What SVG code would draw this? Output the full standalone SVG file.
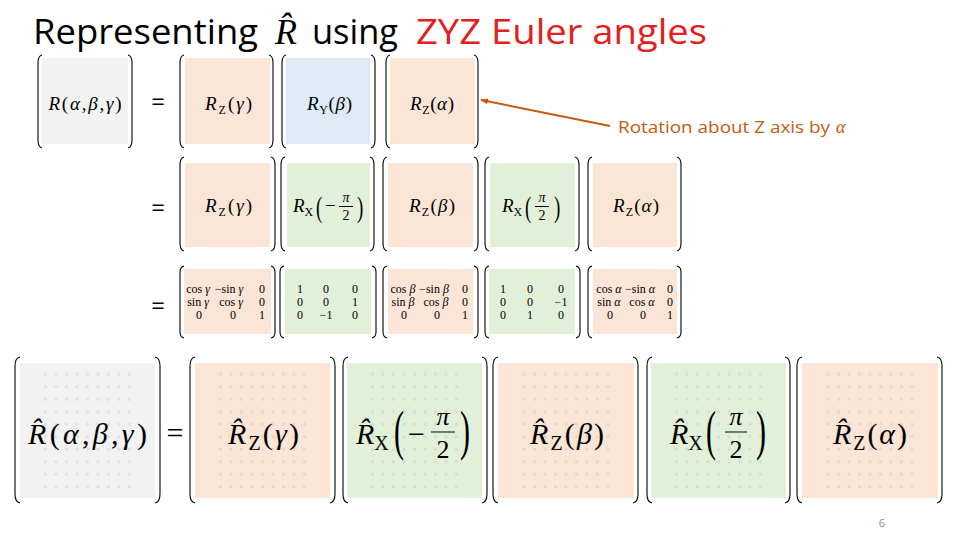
<svg xmlns="http://www.w3.org/2000/svg" xmlns:xlink="http://www.w3.org/1999/xlink" width="960" height="540" viewBox="0 0 960 540">
<style>
.br{fill:none;stroke:#000;stroke-width:1.1}
.g{fill:#f2f2f2}.o{fill:#fbe5d6}.b{fill:#deebf7}.gr{fill:#e2f0d9}
.m{font-family:"Liberation Serif","DejaVu Serif",serif;fill:#000}
.i{font-style:italic}
.s1{font-size:19px}.s4{font-size:30px}
.mx{font-family:"Liberation Serif","DejaVu Serif",serif;font-size:12px;text-anchor:middle;fill:#000}
.eq{font-family:"Open Sans","Noto Sans",sans-serif;font-size:24px;text-anchor:middle}
.t{font-family:"Open Sans","Noto Sans",sans-serif;font-size:34px}
.c{text-anchor:middle}
.fl{stroke:#000;stroke-width:1}
</style>
<defs>
<pattern id="dp" width="10.5" height="12.5" patternUnits="userSpaceOnUse"><circle cx="5.25" cy="6.25" r="1.6" fill="#000" fill-opacity="0.07"/></pattern>
<rect id="dots" x="0" y="0" width="94.5" height="125" fill="url(#dp)"/>
<marker id="ah" markerWidth="8" markerHeight="8" refX="7" refY="4" orient="auto" markerUnits="userSpaceOnUse"><path d="M0,1 L8,4 L0,7 Z" fill="#c55a11"/></marker>
</defs>
<rect width="960" height="540" fill="#fff"/>
<g id="title">
<text class="t" x="33" y="44" textLength="225" lengthAdjust="spacingAndGlyphs">Representing</text>
<text class="m i" x="275" y="44" font-size="36">R&#x302;</text>
<text class="t" x="312" y="44" textLength="86" lengthAdjust="spacingAndGlyphs">using</text>
<text class="t" x="416" y="44" fill="#e3201b" textLength="291" lengthAdjust="spacingAndGlyphs">ZYZ Euler angles</text>
</g>
<!-- Row 1 -->
<g id="r1a"><rect class="g" x="42" y="58" width="86" height="86"/>
<path class="br" d="M42,55 Q38,56 38,63 L38,140 Q38,147 42,148"/><path class="br" d="M128,55 Q132,56 132,63 L132,140 Q132,147 128,148"/>
<text class="m s1 c" x="85" y="110" textLength="73"><tspan class="i">R</tspan>(<tspan class="i">α</tspan>,<tspan class="i">β</tspan>,<tspan class="i">γ</tspan>)</text></g>
<text class="eq" x="158" y="110">=</text>
<g id="r1b"><rect class="o" x="185" y="58" width="85" height="86"/>
<path class="br" d="M184,55 Q180,56 180,63 L180,140 Q180,147 184,148"/><path class="br" d="M269,55 Q273,56 273,63 L273,140 Q273,147 269,148"/>
<text class="m s1" x="205" y="110" textLength="47"><tspan class="i">R</tspan><tspan font-size="12" dy="4">Z</tspan><tspan dy="-4">(</tspan><tspan class="i">γ</tspan>)</text></g>
<g id="r1c"><rect class="b" x="286" y="58" width="84" height="86"/>
<path class="br" d="M286,55 Q282,56 282,63 L282,140 Q282,147 286,148"/><path class="br" d="M371,55 Q375,56 375,63 L375,140 Q375,147 371,148"/>
<text class="m s1" x="307" y="110" textLength="45"><tspan class="i">R</tspan><tspan font-size="12" dy="4">Y</tspan><tspan dy="-4">(</tspan><tspan class="i">β</tspan>)</text></g>
<g id="r1d"><rect class="o" x="390" y="58" width="85" height="86"/>
<path class="br" d="M390,55 Q386,56 386,63 L386,140 Q386,147 390,148"/><path class="br" d="M474,55 Q478,56 478,63 L478,140 Q478,147 474,148"/>
<text class="m s1" x="410" y="110" textLength="44"><tspan class="i">R</tspan><tspan font-size="12" dy="4">Z</tspan><tspan dy="-4">(</tspan><tspan class="i">α</tspan>)</text></g>
<g id="connectors">
<line x1="610" y1="126" x2="481" y2="100" stroke="#c55a11" stroke-width="2" marker-end="url(#ah)"/>
</g>
<g id="note"><text x="618" y="133" font-family="Open Sans,Noto Sans,sans-serif" font-size="17" fill="#c55a11"><tspan textLength="212" lengthAdjust="spacingAndGlyphs">Rotation about Z axis by</tspan><tspan class="i" font-family="Liberation Serif,serif" font-size="18" dx="6">α</tspan></text></g>
<!-- Row 2 -->
<text class="eq" x="158" y="216">=</text>
<g id="r2a"><rect class="o" x="185" y="163" width="85" height="84"/>
<path class="br" d="M184,157 Q180,158 180,165 L180,243 Q180,250 184,251"/><path class="br" d="M271,157 Q275,158 275,165 L275,243 Q275,250 271,251"/>
<text class="m s1" x="205" y="212" textLength="47"><tspan class="i">R</tspan><tspan font-size="12" dy="4">Z</tspan><tspan dy="-4">(</tspan><tspan class="i">γ</tspan>)</text></g>
<g id="r2b"><rect class="gr" x="287" y="163" width="83" height="84"/>
<path class="br" d="M285,157 Q281,158 281,165 L281,243 Q281,250 285,251"/><path class="br" d="M370,157 Q374,158 374,165 L374,243 Q374,250 370,251"/>
<text class="m s1" x="293" y="212"><tspan class="i">R</tspan><tspan font-size="12" dy="4">X</tspan></text>
<text class="m" font-size="19" transform="translate(316,217) scale(1,1.6)">(</text>
<text class="m s1" x="325" y="212">−</text>
<text class="m c" x="346" y="202" font-size="14" font-style="italic">π</text>
<line class="fl" x1="339" y1="206.5" x2="353" y2="206.5"/>
<text class="m c" x="346" y="220" font-size="14">2</text>
<text class="m" font-size="19" transform="translate(357,217) scale(1,1.6)">)</text></g>
<g id="r2c"><rect class="o" x="388" y="163" width="85" height="84"/>
<path class="br" d="M387,157 Q383,158 383,165 L383,243 Q383,250 387,251"/><path class="br" d="M474,157 Q478,158 478,165 L478,243 Q478,250 474,251"/>
<text class="m s1" x="409" y="212" textLength="46"><tspan class="i">R</tspan><tspan font-size="12" dy="4">Z</tspan><tspan dy="-4">(</tspan><tspan class="i">β</tspan>)</text></g>
<g id="r2d"><rect class="gr" x="490" y="163" width="85" height="84"/>
<path class="br" d="M489,157 Q485,158 485,165 L485,243 Q485,250 489,251"/><path class="br" d="M575,157 Q579,158 579,165 L579,243 Q579,250 575,251"/>
<text class="m s1" x="502" y="212"><tspan class="i">R</tspan><tspan font-size="12" dy="4">X</tspan></text>
<text class="m" font-size="19" transform="translate(525,217) scale(1,1.6)">(</text>
<text class="m c" x="542" y="202" font-size="14" font-style="italic">π</text>
<line class="fl" x1="535" y1="206.5" x2="549" y2="206.5"/>
<text class="m c" x="542" y="220" font-size="14">2</text>
<text class="m" font-size="19" transform="translate(554,217) scale(1,1.6)">)</text></g>
<g id="r2e"><rect class="o" x="593" y="163" width="84" height="84"/>
<path class="br" d="M592,157 Q588,158 588,165 L588,243 Q588,250 592,251"/><path class="br" d="M677,157 Q681,158 681,165 L681,243 Q681,250 677,251"/>
<text class="m s1" x="613" y="212" textLength="46"><tspan class="i">R</tspan><tspan font-size="12" dy="4">Z</tspan><tspan dy="-4">(</tspan><tspan class="i">α</tspan>)</text></g>
<!-- Row 3 -->
<text class="eq" x="158" y="314">=</text>
<g id="r3a"><rect class="o" x="184" y="269" width="87" height="65"/>
<path class="br" d="M184,266 Q180,267 180,272 L180,332 Q180,337 184,338"/><path class="br" d="M271,266 Q275,267 275,272 L275,332 Q275,337 271,338"/>
<text class="mx" x="198" y="293">cos <tspan class="i">γ</tspan></text><text class="mx" x="229" y="293">−sin <tspan class="i">γ</tspan></text><text class="mx" x="262" y="293">0</text>
<text class="mx" x="198" y="306">sin <tspan class="i">γ</tspan></text><text class="mx" x="231" y="306">cos <tspan class="i">γ</tspan></text><text class="mx" x="262" y="306">0</text>
<text class="mx" x="199" y="319">0</text><text class="mx" x="233" y="319">0</text><text class="mx" x="262" y="319">1</text></g>
<g id="r3b"><rect class="gr" x="285" y="269" width="86" height="65"/>
<path class="br" d="M284,266 Q280,267 280,272 L280,332 Q280,337 284,338"/><path class="br" d="M372,266 Q376,267 376,272 L376,332 Q376,337 372,338"/>
<text class="mx" x="300" y="293">1</text><text class="mx" x="326" y="293">0</text><text class="mx" x="355" y="293">0</text>
<text class="mx" x="300" y="306">0</text><text class="mx" x="326" y="306">0</text><text class="mx" x="355" y="306">1</text>
<text class="mx" x="300" y="319">0</text><text class="mx" x="326" y="319">−1</text><text class="mx" x="355" y="319">0</text></g>
<g id="r3c"><rect class="o" x="388" y="269" width="85" height="65"/>
<path class="br" d="M387,266 Q383,267 383,272 L383,332 Q383,337 387,338"/><path class="br" d="M474,266 Q478,267 478,272 L478,332 Q478,337 474,338"/>
<text class="mx" x="403" y="293">cos <tspan class="i">β</tspan></text><text class="mx" x="434" y="293">−sin <tspan class="i">β</tspan></text><text class="mx" x="465" y="293">0</text>
<text class="mx" x="403" y="306">sin <tspan class="i">β</tspan></text><text class="mx" x="436" y="306">cos <tspan class="i">β</tspan></text><text class="mx" x="465" y="306">0</text>
<text class="mx" x="404" y="319">0</text><text class="mx" x="437" y="319">0</text><text class="mx" x="465" y="319">1</text></g>
<g id="r3d"><rect class="gr" x="489" y="269" width="86" height="65"/>
<path class="br" d="M489,266 Q485,267 485,272 L485,332 Q485,337 489,338"/><path class="br" d="M576,266 Q580,267 580,272 L580,332 Q580,337 576,338"/>
<text class="mx" x="503" y="293">1</text><text class="mx" x="530" y="293">0</text><text class="mx" x="561" y="293">0</text>
<text class="mx" x="503" y="306">0</text><text class="mx" x="530" y="306">0</text><text class="mx" x="561" y="306">−1</text>
<text class="mx" x="503" y="319">0</text><text class="mx" x="530" y="319">1</text><text class="mx" x="561" y="319">0</text></g>
<g id="r3e"><rect class="o" x="593" y="269" width="84" height="65"/>
<path class="br" d="M592,266 Q588,267 588,272 L588,332 Q588,337 592,338"/><path class="br" d="M677,266 Q681,267 681,272 L681,332 Q681,337 677,338"/>
<text class="mx" x="609" y="293">cos <tspan class="i">α</tspan></text><text class="mx" x="640" y="293">−sin <tspan class="i">α</tspan></text><text class="mx" x="670" y="293">0</text>
<text class="mx" x="609" y="306">sin <tspan class="i">α</tspan></text><text class="mx" x="642" y="306">cos <tspan class="i">α</tspan></text><text class="mx" x="670" y="306">0</text>
<text class="mx" x="610" y="319">0</text><text class="mx" x="643" y="319">0</text><text class="mx" x="670" y="319">1</text></g>
<!-- Row 4 -->
<g id="r4a"><rect class="g" x="20" y="363" width="135" height="135"/><use xlink:href="#dots" x="40.25" y="368"/>
<path class="br" d="M20,357 Q15,358 15,366 L15,494 Q15,502 20,503"/><path class="br" d="M155,357 Q160,358 160,366 L160,494 Q160,502 155,503"/>
<text class="m s4 c" x="87.5" y="444" textLength="119"><tspan class="i">R&#x302;</tspan>(<tspan class="i">α</tspan>,<tspan class="i">β</tspan>,<tspan class="i">γ</tspan>)</text></g>
<text class="m" x="175" y="443" font-size="30" text-anchor="middle">=</text>
<g id="r4b"><rect class="o" x="195" y="363" width="135" height="135"/><use xlink:href="#dots" x="215.25" y="368"/>
<path class="br" d="M195,357 Q190,358 190,366 L190,494 Q190,502 195,503"/><path class="br" d="M330,357 Q335,358 335,366 L335,494 Q335,502 330,503"/>
<text class="m s4" x="228" y="444" textLength="71"><tspan class="i">R&#x302;</tspan><tspan font-size="20" dy="6">Z</tspan><tspan dy="-6">(</tspan><tspan class="i">γ</tspan>)</text></g>
<g id="r4c"><rect class="gr" x="347" y="363" width="135" height="135"/><use xlink:href="#dots" x="367.25" y="368"/>
<path class="br" d="M348,357 Q343,358 343,366 L343,494 Q343,502 348,503"/><path class="br" d="M482,357 Q487,358 487,366 L487,494 Q487,502 482,503"/>
<text class="m s4" x="356" y="444"><tspan class="i">R&#x302;</tspan><tspan font-size="20" dy="6">X</tspan></text>
<text class="m" font-size="30" transform="translate(394,449) scale(1,1.85)">(</text>
<text class="m s4" x="408" y="444">−</text>
<text class="m c" x="443" y="425" font-size="26" font-style="italic">π</text>
<line class="fl" x1="431" y1="432" x2="455" y2="432" stroke-width="1.5"/>
<text class="m c" x="443" y="458" font-size="26">2</text>
<text class="m" font-size="30" transform="translate(460,449) scale(1,1.85)">)</text></g>
<g id="r4d"><rect class="o" x="498" y="363" width="136" height="135"/><use xlink:href="#dots" x="518.75" y="368"/>
<path class="br" d="M498,357 Q493,358 493,366 L493,494 Q493,502 498,503"/><path class="br" d="M633,357 Q638,358 638,366 L638,494 Q638,502 633,503"/>
<text class="m s4" x="530" y="444" textLength="74"><tspan class="i">R&#x302;</tspan><tspan font-size="20" dy="6">Z</tspan><tspan dy="-6">(</tspan><tspan class="i">β</tspan>)</text></g>
<g id="r4e"><rect class="gr" x="651" y="363" width="135" height="135"/><use xlink:href="#dots" x="671.25" y="368"/>
<path class="br" d="M652,357 Q647,358 647,366 L647,494 Q647,502 652,503"/><path class="br" d="M785,357 Q790,358 790,366 L790,494 Q790,502 785,503"/>
<text class="m s4" x="670" y="444"><tspan class="i">R&#x302;</tspan><tspan font-size="20" dy="6">X</tspan></text>
<text class="m" font-size="30" transform="translate(706,449) scale(1,1.85)">(</text>
<text class="m c" x="736" y="425" font-size="26" font-style="italic">π</text>
<line class="fl" x1="725" y1="432" x2="747" y2="432" stroke-width="1.5"/>
<text class="m c" x="736" y="458" font-size="26">2</text>
<text class="m" font-size="30" transform="translate(756,449) scale(1,1.85)">)</text></g>
<g id="r4f"><rect class="o" x="802" y="363" width="136" height="135"/><use xlink:href="#dots" x="822.75" y="368"/>
<path class="br" d="M802,357 Q797,358 797,366 L797,494 Q797,502 802,503"/><path class="br" d="M937,357 Q942,358 942,366 L942,494 Q942,502 937,503"/>
<text class="m s4" x="833" y="444" textLength="74"><tspan class="i">R&#x302;</tspan><tspan font-size="20" dy="6">Z</tspan><tspan dy="-6">(</tspan><tspan class="i">α</tspan>)</text></g>
<text x="882" y="527" font-family="Open Sans,Noto Sans,sans-serif" font-size="11" fill="#888" text-anchor="middle">6</text>
</svg>
